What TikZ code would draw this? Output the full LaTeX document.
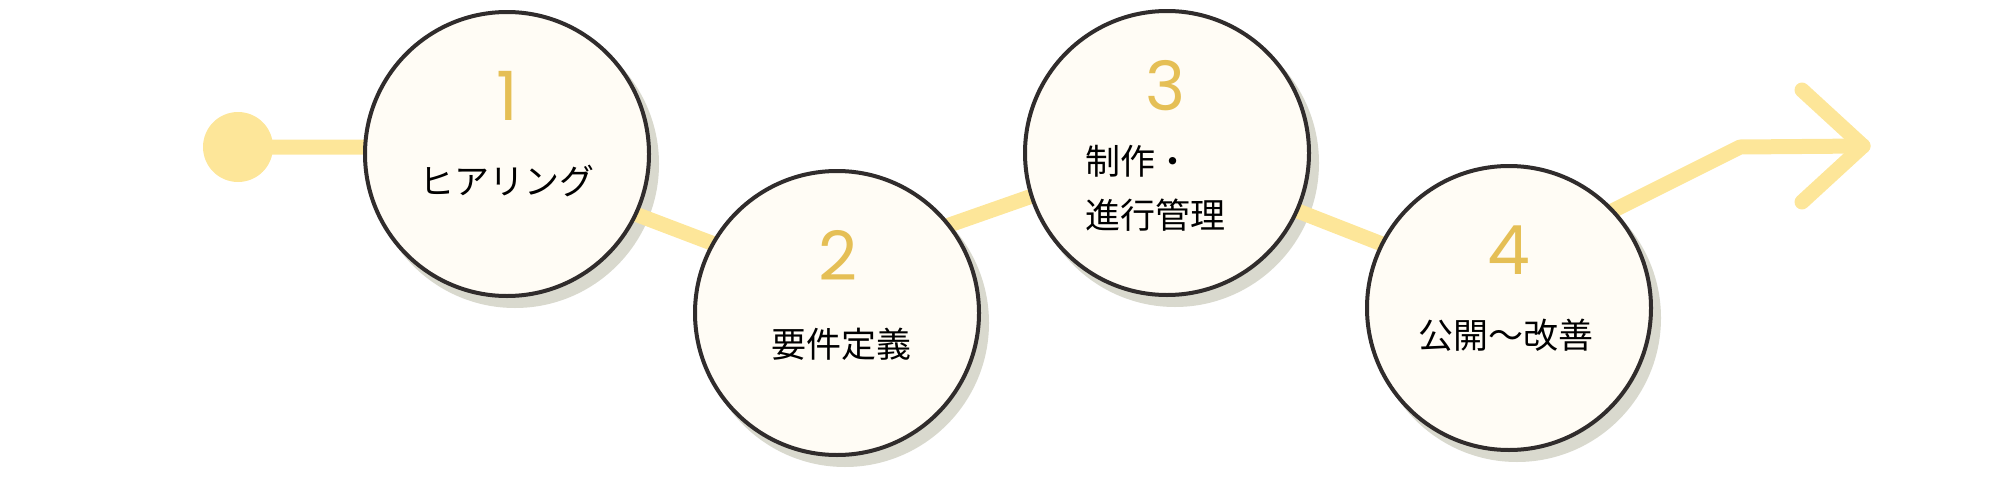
\documentclass[tikz,border=0pt]{standalone}
\usepackage{fontspec}
\newfontfamily\jpfont{Noto Sans CJK JP}
\newfontfamily\numfont{Poppins}
\usetikzlibrary{arrows.meta,positioning}
\definecolor{flowyellow}{HTML}{FDE699}
\definecolor{numgold}{HTML}{E5BF55}
\definecolor{circfill}{HTML}{FFFCF5}
\definecolor{circedge}{HTML}{302C2C}
\definecolor{shadowgrey}{HTML}{D9D9CE}
\tikzset{stepcircle/.style={
    % The shape:
    circle,
    % The size:
    minimum size=284pt,
    inner sep=0pt,
    % The border:
    line width=4pt,
    draw=circedge,
    % The filling:
    fill=circfill
    },
    stepshadow/.style={
    fill=shadowgrey
    },
    flowline/.style={
    line width=15pt,
    draw=flowyellow,
    line cap=round,
    line join=round
    },
    startdot/.style={
    circle,
    minimum size=70pt,
    inner sep=0pt,
    fill=flowyellow
    },
    stepnum/.style={
    font=\numfont\fontsize{68}{68}\selectfont,
    text=numgold,
    inner sep=0pt
    },
    steplabel/.style={
    font=\jpfont\fontsize{35}{54}\selectfont,
    text=black,
    inner sep=0pt
    },
}

\begin{document}
\begin{tikzpicture}[x=1pt,y=-1pt]
    \useasboundingbox (0,0) rectangle (2014,482);
    % centres of the four steps
    \coordinate (c1) at (507,154);
    \coordinate (c2) at (837,313);
    \coordinate (c3) at (1167,153);
    \coordinate (c4) at (1509,308);
    \foreach \c in {c1,c2,c3,c4}
        \fill[stepshadow] ([shift={(8,10)}]\c) circle (144);

    % the yellow path
    \node (dot) [startdot] at (238,147) {};
    \coordinate (j1)   at (459,147);
    \coordinate (j2)   at (801,277);
    \coordinate (j3)   at (1152,154);
    \coordinate (j4)   at (1474,280);
    \coordinate (bend) at (1740,147);
    \coordinate (tip)  at (1863,146);
    \coordinate (armup)   at (1802,90);
    \coordinate (armdown) at (1802,202);
    \draw[flowline] (dot.center) -- (j1) -- (j2) -- (j3) -- (j4) -- (bend) -- (tip);
    \draw[flowline] (armup) -- (tip) -- (armdown);

    \node (s1) [stepcircle] at (c1) {};
    \node (s2) [stepcircle] at (c2) {};
    \node (s3) [stepcircle] at (c3) {};
    \node (s4) [stepcircle] at (c4) {};

    \node (num1) [stepnum] at (507,96)   {1};
    \node (num2) [stepnum] at (838,255)  {2};
    \node (num3) [stepnum] at (1166,86)  {3};
    \node (num4) [stepnum] at (1509,250) {4};

    \node (lab1) [steplabel] at (507,181)  {ヒアリング};
    \node (lab2) [steplabel] at (841,344)  {要件定義};
    \node (lab3) [steplabel,align=left,anchor=west] at (1085,188) {制作・\\進行管理};
    \node (lab4) [steplabel] at (1506,335) {公開～改善};
\end{tikzpicture}
\end{document}
